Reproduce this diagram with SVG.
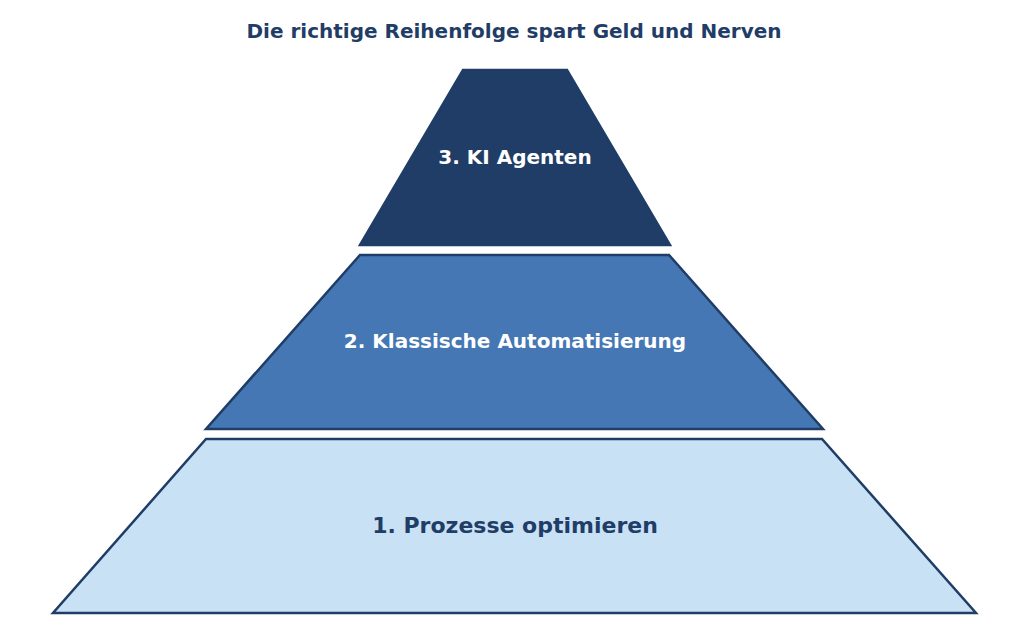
<svg xmlns="http://www.w3.org/2000/svg" width="1024" height="633" viewBox="0 0 1024 633">
<style>
.t{font-family:"DejaVu Sans",sans-serif;font-weight:bold;text-anchor:middle;dominant-baseline:central}
.s{stroke:#1f3d66;stroke-width:2.5;stroke-linejoin:miter}
</style>
<rect width="1024" height="633" fill="#fff"/>
<text class="t" x="514" y="31" font-size="20" fill="#1f3d66">Die richtige Reihenfolge spart Geld und Nerven</text>
<g id="level3"><polygon class="s" points="463,70 567,70 670,245 360,245" fill="#1f3d66"/><text class="t" x="515" y="157" font-size="20" fill="#fff">3. KI Agenten</text></g>
<g id="level2"><polygon class="s" points="360,255 669,255 823,429 206,429" fill="#4477b4"/><text class="t" x="515" y="341" font-size="20" fill="#fff">2. Klassische Automatisierung</text></g>
<g id="level1"><polygon class="s" points="206,439 822,439 976,613 53,613" fill="#c9e1f4"/><text class="t" x="515" y="525" font-size="22" fill="#1f3d66">1. Prozesse optimieren</text></g>
<g id="connectors"/>
</svg>
